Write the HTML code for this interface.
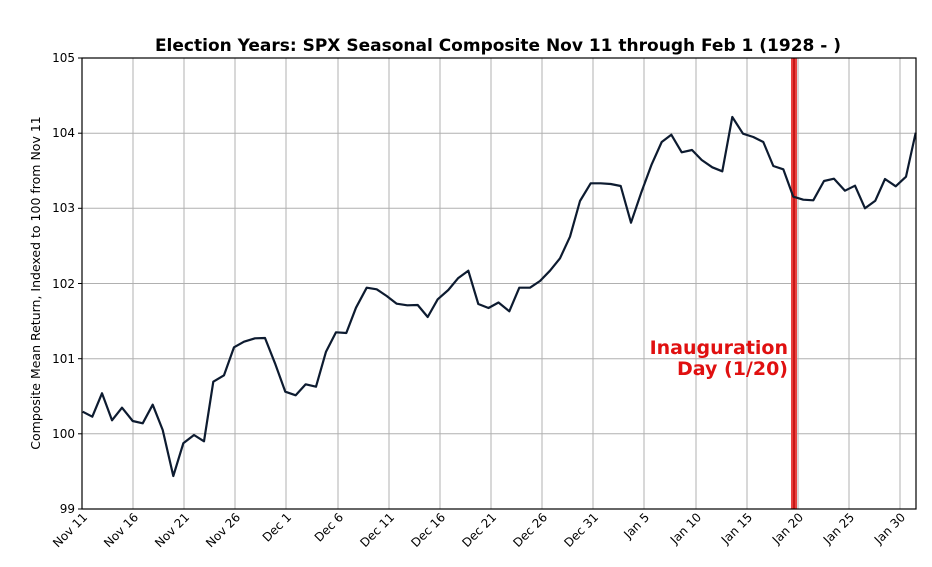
<!DOCTYPE html>
<html><head><meta charset="utf-8"><style>body{margin:0;background:#fff}svg{display:block}text{font-family:"DejaVu Sans","Liberation Sans",sans-serif}</style></head><body>
<svg width="932" height="567" viewBox="0 0 932 567">
<rect width="932" height="567" fill="#fff"/>
<g stroke="#b0b0b0" stroke-width="1">
<line x1="82" y1="58" x2="916" y2="58"/><line x1="82" y1="133.2" x2="916" y2="133.2"/><line x1="82" y1="208.3" x2="916" y2="208.3"/><line x1="82" y1="283.5" x2="916" y2="283.5"/><line x1="82" y1="358.7" x2="916" y2="358.7"/><line x1="82" y1="433.8" x2="916" y2="433.8"/>
<line x1="133" y1="58" x2="133" y2="509"/><line x1="184" y1="58" x2="184" y2="509"/><line x1="235" y1="58" x2="235" y2="509"/><line x1="286" y1="58" x2="286" y2="509"/><line x1="338" y1="58" x2="338" y2="509"/><line x1="389" y1="58" x2="389" y2="509"/><line x1="440" y1="58" x2="440" y2="509"/><line x1="491" y1="58" x2="491" y2="509"/><line x1="542" y1="58" x2="542" y2="509"/><line x1="593" y1="58" x2="593" y2="509"/><line x1="644" y1="58" x2="644" y2="509"/><line x1="696" y1="58" x2="696" y2="509"/><line x1="747" y1="58" x2="747" y2="509"/><line x1="798" y1="58" x2="798" y2="509"/><line x1="849" y1="58" x2="849" y2="509"/><line x1="900" y1="58" x2="900" y2="509"/>
</g>
<rect x="791" y="58" width="6" height="451" fill="#e8413f"/>
<rect x="793" y="58" width="2" height="451" fill="#c81818"/>
<polyline fill="none" stroke="#0d1b30" stroke-width="2.2" stroke-linejoin="round" points="82.7,411.7 92.3,416.7 102,393.3 112,420.3 122,407.7 132.7,421 142.7,423.3 152.7,404.7 162.7,430 173.3,476 183.3,443.3 194,435 204,441.3 213.3,381.7 224,375.3 234,347.3 244,341.7 255,338.3 265,338 275,363.3 285.3,391.7 295.7,395.3 305.7,384.3 316,386.7 326,351.7 336,332.3 346.3,333 356,307.7 366.7,287.7 376.7,289.3 386.7,296 396.7,303.7 407.3,305.3 417.7,305 427.7,317 437.7,299.3 448.3,290 458,278.3 468.3,270.7 478.3,304 488.5,308 498.5,302.5 509.3,311.3 519.3,287.7 530,287.7 540,281 550,270.7 560,258.3 570,236.7 580,201 590.7,183.3 600.7,183.3 610.7,184 620.7,186 631,222.7 641,193.3 651.7,164.3 661.7,142 671.3,134.7 681.7,152.3 692,150 701.7,160 712.3,167.3 722.3,171.3 732.3,117 743,133.7 753.3,137 763.3,142 773.3,166 783.3,169.3 793.3,196.7 803.3,199.7 813.3,200.3 824,181 834,178.7 845,190.7 855,185.7 865,208.3 875.3,200.7 885,179 895.7,186.3 906,176.7 915.7,132.7"/>
<rect x="82" y="58" width="834" height="451" fill="none" stroke="#000" stroke-width="1.2"/>
<g stroke="#000" stroke-width="1"><line x1="78" y1="58" x2="82" y2="58"/><line x1="78" y1="133.2" x2="82" y2="133.2"/><line x1="78" y1="208.3" x2="82" y2="208.3"/><line x1="78" y1="283.5" x2="82" y2="283.5"/><line x1="78" y1="358.7" x2="82" y2="358.7"/><line x1="78" y1="433.8" x2="82" y2="433.8"/><line x1="78" y1="509" x2="82" y2="509"/></g>
<g font-size="12" text-anchor="end" fill="#000"><text x="75" y="62">105</text><text x="75" y="137">104</text><text x="75" y="212">103</text><text x="75" y="288">102</text><text x="75" y="363">101</text><text x="75" y="438">100</text><text x="75" y="513">99</text></g>
<g font-size="12" text-anchor="end" fill="#000">
<text transform="translate(88,518) rotate(-45)">Nov 11</text><text transform="translate(139,518) rotate(-45)">Nov 16</text><text transform="translate(190,518) rotate(-45)">Nov 21</text><text transform="translate(241,518) rotate(-45)">Nov 26</text><text transform="translate(292,518) rotate(-45)">Dec 1</text><text transform="translate(344,518) rotate(-45)">Dec 6</text><text transform="translate(395,518) rotate(-45)">Dec 11</text><text transform="translate(446,518) rotate(-45)">Dec 16</text><text transform="translate(497,518) rotate(-45)">Dec 21</text><text transform="translate(548,518) rotate(-45)">Dec 26</text><text transform="translate(599,518) rotate(-45)">Dec 31</text><text transform="translate(650,518) rotate(-45)">Jan 5</text><text transform="translate(702,518) rotate(-45)">Jan 10</text><text transform="translate(753,518) rotate(-45)">Jan 15</text><text transform="translate(804,518) rotate(-45)">Jan 20</text><text transform="translate(855,518) rotate(-45)">Jan 25</text><text transform="translate(906,518) rotate(-45)">Jan 30</text>
</g>
<text x="498" y="51" font-size="17" font-weight="bold" text-anchor="middle">Election Years: SPX Seasonal Composite Nov 11 through Feb 1 (1928 - )</text>
<text transform="translate(40,283) rotate(-90)" font-size="12.5" text-anchor="middle">Composite Mean Return, Indexed to 100 from Nov 11</text>
<g font-size="19" font-weight="bold" fill="#e01010" text-anchor="end"><text x="788" y="354">Inauguration</text><text x="788" y="375">Day (1/20)</text></g>
</svg>
</body></html>
